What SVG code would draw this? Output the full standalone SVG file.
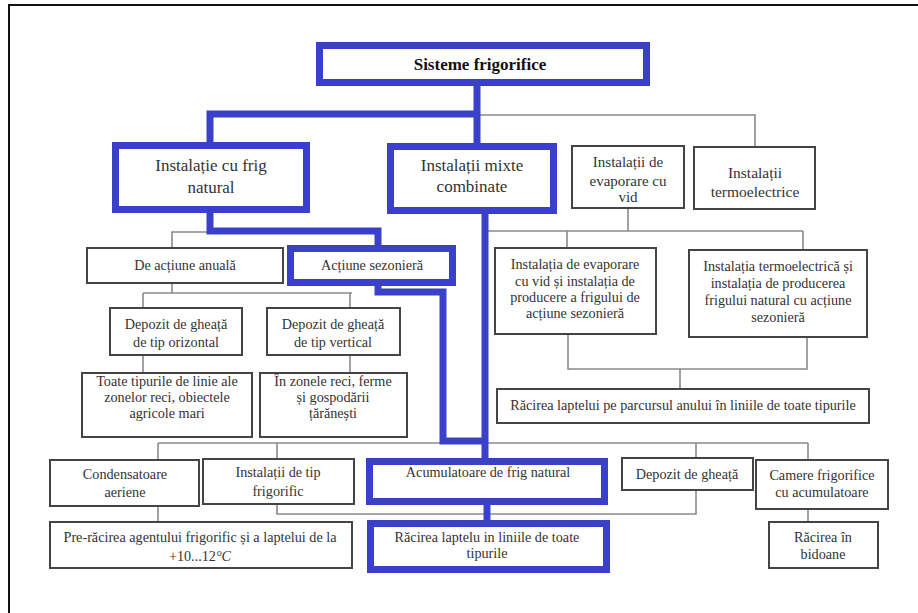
<svg xmlns="http://www.w3.org/2000/svg" width="918" height="613" viewBox="0 0 918 613" font-family="'Liberation Serif', 'DejaVu Serif', 'Times New Roman', serif">
<style>
.bg{fill:#fff}
.frame{stroke:#111;stroke-width:2;fill:none}
.bx{fill:#fff;stroke:#444;stroke-width:2}
.bb{fill:#fff;stroke:#3b40c8;stroke-width:7}
.g{fill:none;stroke:#8a8a8a;stroke-width:1.6}
.b{fill:none;stroke:#3b40c8;stroke-width:7;stroke-linejoin:miter}
text{font-family:'Liberation Serif','DejaVu Serif','Times New Roman',serif;fill:#333;text-anchor:middle;font-size:14.2px}
.big{font-size:17px}
.mid{font-size:15.5px}
.sm{font-size:15px}
.title{font-weight:bold;font-size:17px;fill:#111}
</style>
<rect class="bg" x="0" y="0" width="918" height="613"/>
<path class="frame" d="M9,613 V5 H918"/>
<g id="connectors">
<path class="g" d="M477,115 H755 V147"/>
<path class="g" d="M628,208 V231 M488,231 H803 M567,231 V248 M803,231 V250"/>
<path class="g" d="M568,334 V369 H807 V337 M680,369 V389"/>
<path class="g" d="M172,248 V232 H210"/>
<path class="g" d="M172,283 V293 M143,293 H352 M143,293 V308 M350,293 V308"/>
<path class="g" d="M143,355 V373 M350,355 V373"/>
<path class="g" d="M158,443 H808 M158,443 V460 M277,443 V459 M696,443 V458 M808,443 V460"/>
<path class="g" d="M158,506 V522"/>
<path class="g" d="M277,504 V514 H696 V490"/>
<path class="g" d="M808,509 V522"/>
<path class="b" d="M477,86 V114 M206.5,114 H480.5 M210,114 V142 M477,114 V143"/>
<path class="b" d="M210,213 V231 H378 V245"/>
<path class="b" d="M378,286 V292 H443 V441 H488"/>
<path class="b" d="M485,214 V458"/>
<path class="b" d="M487,505 V520"/>
</g>
<g id="n-sisteme"><rect class="bb" x="319.5" y="45.5" width="327" height="37"/><text class="title" x="480" y="70">Sisteme frigorifice</text></g>
<g id="n-natural"><rect class="bb" x="115.5" y="145.5" width="191" height="64"/><text class="big" x="211" y="171">Instalație cu frig</text><text class="big" x="211" y="193">natural</text></g>
<g id="n-mixte"><rect class="bb" x="390.5" y="146.5" width="163" height="64"/><text class="big" x="472" y="171">Instalații mixte</text><text class="big" x="472" y="192">combinate</text></g>
<g id="n-evap"><rect class="bx" x="572" y="146" width="112" height="62"/><text class="sm" x="628" y="167">Instalații de</text><text class="sm" x="628" y="186">evaporare cu</text><text class="sm" x="628" y="202">vid</text></g>
<g id="n-termo"><rect class="bx" x="694" y="147" width="121" height="62"/><text class="mid" x="755" y="178">Instalații</text><text class="mid" x="755" y="197">termoelectrice</text></g>
<g id="n-anuala"><rect class="bx" x="87" y="248" width="196" height="35"/><text x="185" y="270">De acțiune anuală</text></g>
<g id="n-sezoniera"><rect class="bb" x="290.5" y="248.5" width="162" height="34"/><text x="372" y="270">Acțiune sezonieră</text></g>
<g id="n-evap2"><rect class="bx" x="495" y="248" width="161" height="86"/><text x="575" y="269">Instalația de evaporare</text><text x="575" y="286">cu vid și  instalația de</text><text x="575" y="302">producere a frigului de</text><text x="575" y="318">acțiune sezonieră</text></g>
<g id="n-termo2"><rect class="bx" x="689" y="250" width="178" height="87"/><text x="778" y="271">Instalația termoelectrică și</text><text x="778" y="288">instalația de producerea</text><text x="778" y="305">frigului natural cu acțiune</text><text x="778" y="322">sezonieră</text></g>
<g id="n-orizontal"><rect class="bx" x="110" y="308" width="132" height="47"/><text x="176" y="329">Depozit de gheață</text><text x="176" y="347">de tip orizontal</text></g>
<g id="n-vertical"><rect class="bx" x="267" y="308" width="133" height="47"/><text x="333" y="329">Depozit de gheață</text><text x="333" y="347">de tip vertical</text></g>
<g id="n-toate"><rect class="bx" x="82" y="373" width="170" height="64"/><text x="167" y="386">Toate tipurile de linie ale</text><text x="167" y="402">zonelor reci, obiectele</text><text x="167" y="418">agricole mari</text></g>
<g id="n-zonele"><rect class="bx" x="260" y="373" width="147" height="64"/><text x="333" y="386">În zonele reci, ferme</text><text x="333" y="402">și gospodării</text><text x="333" y="418">țărănești</text></g>
<g id="n-anul"><rect class="bx" x="497" y="389" width="372" height="34"/><text x="683" y="410">Răcirea laptelui pe parcursul anului în liniile de toate tipurile</text></g>
<g id="n-condens"><rect class="bx" x="50" y="460" width="149" height="46"/><text x="125" y="479">Condensatoare</text><text x="125" y="497">aeriene</text></g>
<g id="n-frigorific"><rect class="bx" x="203" y="459" width="151" height="45"/><text x="278" y="477">Instalații de tip</text><text x="278" y="496">frigorific</text></g>
<g id="n-acumulatoare"><rect class="bb" x="369.5" y="461.5" width="235" height="40"/><text x="488" y="477">Acumulatoare de frig natural</text></g>
<g id="n-depozit"><rect class="bx" x="622" y="458" width="131" height="32"/><text x="687" y="479">Depozit de gheață</text></g>
<g id="n-camere"><rect class="bx" x="756" y="460" width="132" height="49"/><text x="822" y="480">Camere frigorifice</text><text x="822" y="497">cu acumulatoare</text></g>
<g id="n-prerac"><rect class="bx" x="50" y="522" width="302" height="46"/><text x="200" y="542">Pre-răcirea agentului frigorific și a laptelui de la</text><text x="200" y="561">+10...12<tspan font-style="italic">°C</tspan></text></g>
<g id="n-racirea"><rect class="bb" x="370.5" y="523.5" width="236" height="46"/><text x="487" y="542">Răcirea laptelu  in liniile de toate</text><text x="487" y="558">tipurile</text></g>
<g id="n-bidoane"><rect class="bx" x="769" y="522" width="109" height="46"/><text x="823" y="542">Răcirea în</text><text x="823" y="559">bidoane</text></g>
</svg>
